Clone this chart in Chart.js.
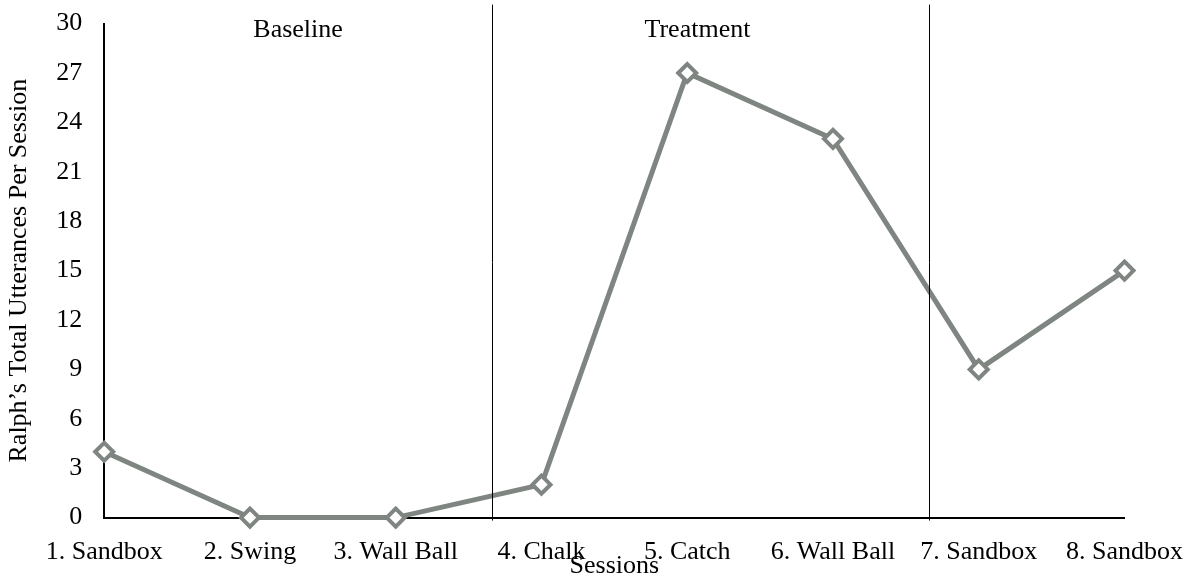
<!DOCTYPE html>
<html>
<head>
<meta charset="utf-8">
<script src="https://cdn.jsdelivr.net/npm/chart.js@4.4.1/dist/chart.umd.min.js"></script>
<style>
  html, body { margin: 0; padding: 0; background: #fff; }
  #wrap { width: 1191px; height: 577px; }
</style>
</head>
<body>
<div id="wrap"><canvas id="c" width="1191" height="577"></canvas></div>
<script>
// Sessions and total utterances per session
const sessions = ['1. Sandbox', '2. Swing', '3. Wall Ball', '4. Chalk', '5. Catch', '6. Wall Ball', '7. Sandbox', '8. Sandbox'];
const utterances = [4, 0, 0, 2, 27, 23, 9, 15];
const yTicks = [0, 3, 6, 9, 12, 15, 18, 21, 24, 27, 30];
// Phase change lines (between sessions, in session-index units) and phase names
const phaseLines = [2.66, 5.66];
const phaseNames = ['Baseline', 'Treatment'];
const phaseNamePos = [1.33, 4.07];

const FONT = "'Liberation Serif', 'Times New Roman', serif";
const FS = 26;

const phasePlugin = {
  id: 'phases',
  afterDatasetsDraw(chart) {
    const { ctx, scales: { x, y } } = chart;
    ctx.save();
    ctx.strokeStyle = '#000';
    ctx.lineWidth = 1;
    phaseLines.forEach(v => {
      const px = Math.round(x.getPixelForValue(v)) + 0.5;
      ctx.beginPath();
      ctx.moveTo(px, y.getPixelForValue(30) - 19);
      ctx.lineTo(px, y.getPixelForValue(0) + 3);
      ctx.stroke();
    });
    ctx.fillStyle = '#000';
    ctx.font = FS + 'px ' + FONT;
    ctx.textAlign = 'center';
    ctx.textBaseline = 'middle';
    phaseNames.forEach((n, i) => {
      ctx.fillText(n, x.getPixelForValue(phaseNamePos[i]), y.getPixelForValue(30) + 7);
    });
    ctx.restore();
  }
};

new Chart(document.getElementById('c'), {
  type: 'line',
  data: {
    datasets: [{
      data: utterances.map((v, i) => ({ x: i, y: v })),
      borderColor: '#7f8581',
      borderWidth: 5,
      pointStyle: 'rectRot',
      pointRadius: 9,
      pointBorderWidth: 4,
      pointBackgroundColor: '#ffffff',
      pointBorderColor: '#7f8581',
      tension: 0,
      clip: false
    }]
  },
  options: {
    responsive: false,
    animation: false,
    layout: { padding: { top: 0, right: 0, left: 4, bottom: 0 } },
    plugins: { legend: { display: false }, tooltip: { enabled: false } },
    scales: {
      x: {
        type: 'linear',
        min: 0,
        max: 7,
        afterBuildTicks(scale) {
          scale.ticks = sessions.map((s, i) => ({ value: i }));
        },
        // invisible tick marks keep the labels clear of the axis line
        grid: { display: false, drawTicks: true, tickLength: 11 },
        border: { display: true, color: '#000', width: 2 },
        ticks: {
          autoSkip: false,
          maxRotation: 0,
          padding: 8,
          color: '#000',
          font: { family: FONT, size: FS },
          callback: v => sessions[v] ?? ''
        },
        title: {
          display: true,
          text: 'Sessions',
          color: '#000',
          font: { family: FONT, size: FS },
          padding: { top: -25, bottom: -5 }
        }
      },
      y: {
        min: 0,
        max: 30,
        afterBuildTicks(scale) {
          scale.ticks = yTicks.map(v => ({ value: v }));
        },
        grid: { display: false, drawTicks: true, tickLength: 14 },
        border: { display: true, color: '#000', width: 2 },
        ticks: {
          padding: 8,
          color: '#000',
          font: { family: FONT, size: FS }
        },
        title: {
          display: true,
          text: 'Ralph\u2019s Total Utterances Per Session',
          color: '#000',
          font: { family: FONT, size: FS },
          padding: { top: 0, bottom: 13 }
        }
      }
    }
  },
  plugins: [phasePlugin]
});
</script>
</body>
</html>
